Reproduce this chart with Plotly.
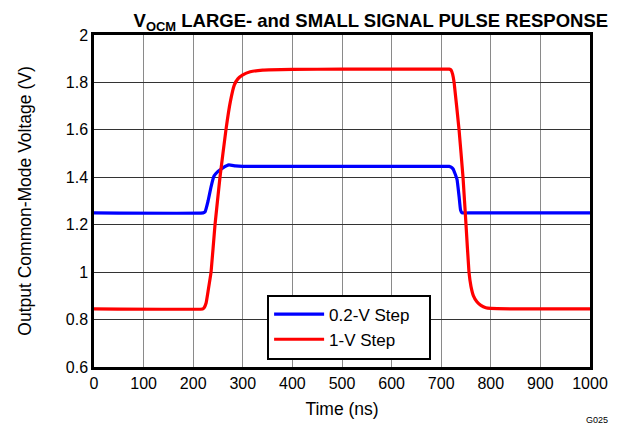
import plotly.graph_objects as go

# Time (ns) and voltage (V) samples
t_small = [0, 220, 224, 230, 236, 242, 250, 260, 272, 285, 300, 400, 500, 600, 700, 716,
           720, 724, 728, 732, 736, 739, 742, 760, 800, 900, 1000]
v_small = [1.25, 1.25, 1.255, 1.30, 1.36, 1.405, 1.425, 1.44, 1.452, 1.448, 1.446, 1.446, 1.446, 1.446, 1.446, 1.446,
           1.443, 1.435, 1.415, 1.39, 1.32, 1.262, 1.25, 1.25, 1.25, 1.25, 1.25]

t_large = [0, 219, 222, 226, 230, 236, 244, 254, 266, 275, 283, 290, 300, 315, 340, 400, 500, 600, 700, 716,
           720, 723, 726, 736, 744, 750, 756, 760, 765, 772, 780, 790, 800, 850, 900, 1000]
v_large = [0.845, 0.845, 0.85, 0.87, 0.92, 1.0, 1.2, 1.4, 1.6, 1.72, 1.79, 1.815, 1.832, 1.845, 1.852, 1.855, 1.856, 1.856, 1.856, 1.856,
           1.852, 1.835, 1.80, 1.6, 1.4, 1.2, 1.0, 0.94, 0.9, 0.875, 0.86, 0.85, 0.847, 0.845, 0.845, 0.845]

x_ticks = [0, 100, 200, 300, 400, 500, 600, 700, 800, 900, 1000]
y_ticks = [0.6, 0.8, 1.0, 1.2, 1.4, 1.6, 1.8, 2.0]
y_labels = ["0.6", "0.8", "1", "1.2", "1.4", "1.6", "1.8", "2"]

FONT = "Arial, Liberation Sans, sans-serif"
PAD = "\u00a0\u00a0\u00a0"

fig = go.Figure()
fig.add_trace(go.Scatter(x=t_small, y=v_small, mode="lines", name="0.2-V Step" + PAD,
                         line=dict(color="#0000ff", width=3.2, shape="spline", smoothing=0.3)))
fig.add_trace(go.Scatter(x=t_large, y=v_large, mode="lines", name="1-V Step" + PAD,
                         line=dict(color="#ff0000", width=3.2, shape="spline", smoothing=0.3)))

fig.update_layout(
    width=615, height=420,
    margin=dict(l=86, r=33, t=27, b=58),
    paper_bgcolor="white", plot_bgcolor="white",
    font=dict(family=FONT, size=16, color="black"),
    title=dict(text="<b>V<sub>OCM</sub> LARGE- and SMALL SIGNAL PULSE RESPONSE</b>",
               x=0.59, xanchor="center", y=0.985, yanchor="top",
               font=dict(family=FONT, size=18.5, color="black")),
    showlegend=True,
    legend=dict(x=0.349, y=0.218, xanchor="left", yanchor="top",
                bordercolor="black", borderwidth=2, bgcolor="white",
                font=dict(family=FONT, size=17, color="black"),
                tracegroupgap=0, itemwidth=50),
    xaxis=dict(range=[0, 1000], tickvals=x_ticks, ticks="", showgrid=True,
               gridcolor="#8a8a8a", gridwidth=1, zeroline=False,
               showline=True, linecolor="black", linewidth=2.5, mirror=True,
               title=dict(text="Time (ns)", font=dict(size=17.5), standoff=12),
               tickfont=dict(size=16)),
    yaxis=dict(range=[0.6, 2.0], tickvals=y_ticks, ticktext=y_labels, ticks="",
               showgrid=True, gridcolor="#333333", gridwidth=1, zeroline=False,
               showline=True, linecolor="black", linewidth=2.5, mirror=True,
               title=dict(text="Output Common-Mode Voltage (V)", font=dict(size=17.5), standoff=30),
               tickfont=dict(size=16)),
)

fig.add_annotation(text="G025", xref="paper", yref="paper", x=1.04, y=-0.14,
                   xanchor="right", yanchor="top", showarrow=False,
                   font=dict(family=FONT, size=9, color="black"))

fig.write_html("out.html")
